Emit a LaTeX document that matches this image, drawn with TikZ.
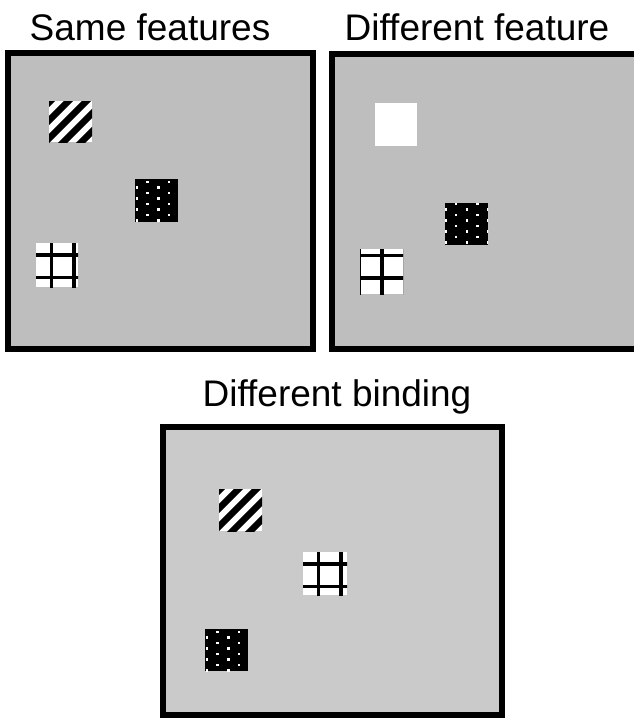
\documentclass[tikz,border=0pt]{standalone}
\usepackage{fontspec}
\setmainfont{Liberation Sans}
\definecolor{panelgray}{RGB}{190,190,190}
\definecolor{panelgraylight}{RGB}{202,202,202}
\tikzset{
  panel/.style={line width=6pt, draw=black, line join=miter},
  caption/.style={anchor=base, inner sep=0pt, font=\fontsize{37}{44}\selectfont},
}
% diagonal stripes: x y w h
\newcommand{\stripesq}[4]{%
  \begin{scope}
    \clip (#1,#2) rectangle ++(#3,#4);
    \fill[white] (#1,#2) rectangle ++(#3,#4);
    \foreach \c in {1.5,19.5,...,91.5}
      \draw[line width=6.7pt] ({#1+\c-60},{#2+60}) -- ({#1+\c+60},{#2-60});
  \end{scope}}
% black square with staggered white dots: x y w h phasex phasey
\newcommand{\dotsq}[6]{%
  \begin{scope}
    \clip (#1,#2) rectangle ++(#3,#4);
    \fill (#1,#2) rectangle ++(#3,#4);
    \foreach \i in {-1,...,5}{
      \foreach \j in {-1,...,5}{
        \pgfmathsetmacro\dx{#1+#5+10.7*\i}
        \pgfmathsetmacro\dy{#2+#6+11*\j-5.5*mod(\i+2,2)}
        \fill[white] (\dx-1.25,\dy-1.25) rectangle ++(2.5,2.5);
      }}
  \end{scope}}
% white square with a black lattice: x y w h phasex phasey
\newcommand{\gridsq}[6]{%
  \begin{scope}
    \clip (#1,#2) rectangle ++(#3,#4);
    \fill[white] (#1,#2) rectangle ++(#3,#4);
    \foreach \k in {-1,...,2}{
      \draw[line width=3.3pt] ({#1+#5+22.5*\k},{#2-5}) -- ++(0,{#4+10});
      \draw[line width=3.3pt] ({#1-5},{#2+#6+22.5*\k}) -- ++({#3+10},0);
    }
  \end{scope}}
\begin{document}
\begin{tikzpicture}[x=1pt,y=-1pt]
  \useasboundingbox (0,0) rectangle (634,721);
  \fill[white] (0,0) rectangle (634,721);
  \clip (0,0) rectangle (634,721);

  % captions
  \node[caption] (capsame) at (150,40) {Same features};
  \node[caption] (capfeat) at (477,40) {Different feature};
  \node[caption] (capbind) at (337,406) {Different binding};

  % panel 1: same features
  \fill[panelgray] (8,53) rectangle (313,349);
  \stripesq{49}{101}{43}{41}
  \dotsq{135}{179}{43}{43}{2}{8.5}
  \gridsq{36}{243}{42}{44}{15.5}{12}
  \draw[panel] (8,53) rectangle (313,349);

  % panel 2: different feature
  \fill[panelgray] (332,54) rectangle (645,349);
  \fill[white] (375,103) rectangle (417,146);
  \dotsq{445}{203}{43}{42}{0.5}{6.5}
  \gridsq{360}{249}{43}{45}{-0.5}{6.5}
  \draw[panel] (645,54) -- (332,54) -- (332,349) -- (645,349);

  % panel 3: different binding
  \fill[panelgraylight] (163,427) rectangle (502,715);
  \stripesq{219}{489}{43}{42}
  \gridsq{303}{552}{44}{43}{15.5}{12}
  \dotsq{205}{629}{43}{42}{2}{8.5}
  \draw[panel] (163,427) rectangle (502,715);
\end{tikzpicture}
\end{document}
